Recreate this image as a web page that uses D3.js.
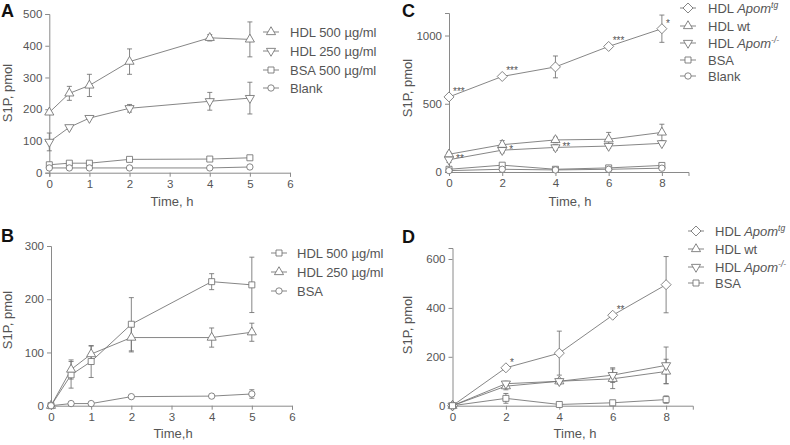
<!DOCTYPE html>
<html><head><meta charset="utf-8">
<script src="https://cdn.jsdelivr.net/npm/d3@7"></script>
<style>
html,body{margin:0;padding:0;background:#fff;}
svg{display:block;font-family:"Liberation Sans",Arial,sans-serif;}
</style></head>
<body>
<script>
// ---------- DATA ----------
const panelLetters = ["A", "B", "C", "D"];
const yAxisLabel = "S1P, pmol";
const xAxisLabels = ["Time, h", "Time,h", "Time, h", "Time, h"];

// Panel A
const timeA = [0, 0.5, 1, 2, 4, 5];
const aHdl500 = [190, 250, 275, 350, 425, 420];
const aHdl500Err = [0, 22, 35, 40, 10, 55];
const aHdl250 = [97, 143, 172, 203, 225, 235];
const aHdl250Err = [28, 5, 4, 12, 28, 50];
const aBsa = [25, 30, 30, 42, 43, 47];
const aBsaErr = [0, 0, 0, 0, 0, 0];
const aBlank = [15, 15, 15, 15, 15, 18];
const aBlankErr = [0, 0, 0, 0, 0, 0];
const ticksAx = [0, 1, 2, 3, 4, 5, 6];
const ticksAy = [0, 100, 200, 300, 400, 500];

// Panel B
const timeB = [0, 0.5, 1, 2, 4, 5];
const bHdl500 = [0, 58, 83, 153, 233, 227];
const bHdl500Err = [0, 25, 30, 50, 15, 52];
const bHdl250 = [0, 68, 97, 128, 128, 138];
const bHdl250Err = [0, 18, 15, 27, 18, 17];
const bBsa = [0, 4, 4, 17, 18, 22];
const bBsaErr = [0, 0, 0, 0, 0, 8];
const ticksBx = [0, 1, 2, 3, 4, 5, 6];
const ticksBy = [0, 100, 200, 300];

// Panel C
const timeC = [0, 2, 4, 6, 8];
const cTg = [550, 700, 770, 920, 1050];
const cTgErr = [0, 0, 80, 0, 100];
const cWt = [130, 200, 235, 240, 290];
const cWtErr = [15, 30, 20, 50, 60];
const cKo = [90, 160, 180, 190, 210];
const cKoErr = [20, 20, 20, 15, 10];
const cBsa = [20, 50, 20, 30, 48];
const cBsaErr = [10, 15, 5, 10, 10];
const cBlank = [10, 20, 15, 20, 28];
const cBlankErr = [0, 0, 0, 0, 0];
const ticksCx = [0, 2, 4, 6, 8];
const ticksCy = [0, 500, 1000];
const starsC = [
  {t: 0, v: 550, s: "***", place: "above"},
  {t: 2, v: 700, s: "***", place: "above"},
  {t: 6, v: 920, s: "***", place: "above"},
  {t: 8, v: 1050, s: "*", place: "above"},
  {t: 0, v: 90, s: "**", place: "right"},
  {t: 2, v: 160, s: "*", place: "right"},
  {t: 4, v: 180, s: "**", place: "right"}
];

// Panel D
const timeD = [0, 2, 4, 6, 8];
const dTg = [0, 155, 215, 370, 495];
const dTgErr = [0, 0, 90, 0, 115];
const dWt = [0, 80, 100, 110, 140];
const dWtErr = [0, 15, 10, 40, 50];
const dKo = [0, 90, 100, 125, 165];
const dKoErr = [0, 10, 10, 30, 75];
const dBsa = [0, 30, 5, 12, 25];
const dBsaErr = [0, 20, 0, 0, 15];
const ticksDx = [0, 2, 4, 6, 8];
const ticksDy = [0, 200, 400, 600];
const starsD = [
  {t: 2, v: 155, s: "*", place: "above"},
  {t: 6, v: 370, s: "**", place: "above"}
];

// legend names: [plain, italic, superscript]
const nHdl500 = ["HDL 500 \u00b5g/ml", "", ""];
const nHdl250 = ["HDL 250 \u00b5g/ml", "", ""];
const nBsa500 = ["BSA 500 \u00b5g/ml", "", ""];
const nBlank = ["Blank", "", ""];
const nBsa = ["BSA", "", ""];
const nTg = ["HDL ", "Apom", "tg"];
const nWt = ["HDL wt", "", ""];
const nKo = ["HDL ", "Apom", "-/-"];

// ---------- DRAWING ----------
const LINE = "#707070", TXT = "#555", AX = "#8a8a8a";
const svg = d3.select("body").append("svg").attr("width", 790).attr("height", 445);

function symPath(kind) {
  if (kind === "up" || kind === "down") return d3.symbol(d3.symbolTriangle, 36)();
  if (kind === "square") return d3.symbol(d3.symbolSquare, 36)();
  if (kind === "circle") return d3.symbol(d3.symbolCircle, 32)();
  if (kind === "diamond") return "M0,-5L5,0L0,5L-5,0Z";
}
function drawSym(g, kind, x, y) {
  g.append("path").attr("d", symPath(kind))
    .attr("transform", `translate(${x},${y})` + (kind === "down" ? " rotate(180)" : ""))
    .attr("fill", "#fff").attr("stroke", LINE).attr("stroke-width", 0.85);
}

const panels = [
  {letter: 0, xr: [49.3, 290], xd: [0, 6], yr: [172.7, 14], yd: [0, 500], xt: ticksAx, yt: ticksAy,
   lp: [1, 17], ylab: [12, 93], xlab: [172, 206],
   series: [
     {name: nHdl500, t: timeA, v: aHdl500, e: aHdl500Err, sym: "up"},
     {name: nHdl250, t: timeA, v: aHdl250, e: aHdl250Err, sym: "down"},
     {name: nBsa500, t: timeA, v: aBsa, e: aBsaErr, sym: "square"},
     {name: nBlank, t: timeA, v: aBlank, e: aBlankErr, sym: "circle"}],
   leg: {sx: 271, tx: 290, ys: [32, 51, 70, 88]}, stars: []},
  {letter: 1, xr: [51, 292], xd: [0, 6], yr: [405.7, 246], yd: [0, 300], xt: ticksBx, yt: ticksBy,
   lp: [1, 242], ylab: [12, 320], xlab: [173, 438],
   series: [
     {name: nHdl500, t: timeB, v: bHdl500, e: bHdl500Err, sym: "square"},
     {name: nHdl250, t: timeB, v: bHdl250, e: bHdl250Err, sym: "up"},
     {name: nBsa, t: timeB, v: bBsa, e: bBsaErr, sym: "circle"}],
   leg: {sx: 279, tx: 297, ys: [253, 272, 291]}, stars: []},
  {letter: 2, xr: [449, 688.5], xd: [0, 9], yr: [172, 13], yd: [0, 1165], xt: ticksCx, yt: ticksCy,
   lp: [402, 17], ylab: [412, 88], xlab: [570, 206],
   series: [
     {name: nTg, t: timeC, v: cTg, e: cTgErr, sym: "diamond"},
     {name: nWt, t: timeC, v: cWt, e: cWtErr, sym: "up"},
     {name: nKo, t: timeC, v: cKo, e: cKoErr, sym: "down"},
     {name: nBsa, t: timeC, v: cBsa, e: cBsaErr, sym: "square"},
     {name: nBlank, t: timeC, v: cBlank, e: cBlankErr, sym: "circle"}],
   leg: {sx: 688, tx: 708, ys: [8, 26, 43, 60, 76]}, stars: starsC},
  {letter: 3, xr: [452.5, 692.8], xd: [0, 9], yr: [405.7, 248], yd: [0, 645], xt: ticksDx, yt: ticksDy,
   lp: [402, 243], ylab: [412, 325], xlab: [575, 438],
   series: [
     {name: nTg, t: timeD, v: dTg, e: dTgErr, sym: "diamond"},
     {name: nWt, t: timeD, v: dWt, e: dWtErr, sym: "up"},
     {name: nKo, t: timeD, v: dKo, e: dKoErr, sym: "down"},
     {name: nBsa, t: timeD, v: dBsa, e: dBsaErr, sym: "square"}],
   leg: {sx: 696, tx: 715, ys: [231, 249, 267, 283]}, stars: starsD}
];

const fmt = d3.format("d");
panels.forEach(p => {
  const x = d3.scaleLinear().domain(p.xd).range(p.xr);
  const y = d3.scaleLinear().domain(p.yd).range(p.yr);
  const g = svg.append("g");

  // axes
  const ya = g.append("g").attr("transform", `translate(${p.xr[0]},0)`)
    .call(d3.axisLeft(y).tickValues(p.yt).tickFormat(fmt).tickSizeOuter(0).tickSize(4).tickPadding(3));
  const xa = g.append("g").attr("transform", `translate(0,${p.yr[0]})`)
    .call(d3.axisBottom(x).tickValues(p.xt).tickFormat(fmt).tickSizeOuter(0).tickSize(4).tickPadding(3));
  [ya, xa].forEach(a => {
    a.select(".domain").attr("stroke", AX);
    a.selectAll(".tick line").attr("stroke", AX);
    a.selectAll(".tick text").attr("fill", TXT).attr("font-size", 11.5)
      .attr("font-family", "Liberation Sans, Arial, sans-serif");
  });

  // panel letter
  g.append("text").attr("x", p.lp[0]).attr("y", p.lp[1]).text(panelLetters[p.letter])
    .attr("font-size", 18).attr("font-weight", "bold").attr("fill", "#111");
  // y label
  g.append("text").attr("transform", `translate(${p.ylab[0]},${p.ylab[1]}) rotate(-90)`)
    .attr("text-anchor", "middle").attr("font-size", 13).attr("fill", TXT).text(yAxisLabel);
  // x label
  g.append("text").attr("x", p.xlab[0]).attr("y", p.xlab[1]).attr("text-anchor", "middle")
    .attr("font-size", 13).attr("fill", TXT).text(xAxisLabels[p.letter]);

  const line = d3.line().x(d => x(d[0])).y(d => y(d[1]));
  // error bars
  p.series.forEach(s => {
    s.t.forEach((t, i) => {
      if (!s.e[i]) return;
      const cx = x(t), y1 = y(s.v[i] - s.e[i]), y2 = y(s.v[i] + s.e[i]);
      g.append("line").attr("x1", cx).attr("x2", cx).attr("y1", y1).attr("y2", y2).attr("stroke", LINE).attr("stroke-width", 0.85);
      [y1, y2].forEach(yy => g.append("line").attr("x1", cx - 2.5).attr("x2", cx + 2.5).attr("y1", yy).attr("y2", yy).attr("stroke", LINE).attr("stroke-width", 0.85));
    });
  });
  // lines
  p.series.forEach(s => {
    g.append("path").datum(s.t.map((t, i) => [t, s.v[i]])).attr("d", line)
      .attr("fill", "none").attr("stroke", LINE).attr("stroke-width", 0.85);
  });
  // markers
  p.series.forEach(s => {
    s.t.forEach((t, i) => drawSym(g, s.sym, x(t), y(s.v[i])));
  });
  // stars
  p.stars.forEach(st => {
    const px = x(st.t), py = y(st.v);
    const tx = st.place === "above" ? px + 4 : px + 7;
    const ty = st.place === "above" ? py - 2 : py + 2.5;
    g.append("text").attr("x", tx).attr("y", ty).attr("font-size", 10).attr("fill", TXT).text(st.s);
  });
  // legend
  p.series.forEach((s, i) => {
    const ly = p.leg.ys[i];
    g.append("line").attr("x1", p.leg.sx - 8).attr("x2", p.leg.sx + 8).attr("y1", ly).attr("y2", ly)
      .attr("stroke", LINE).attr("stroke-width", 0.85);
    drawSym(g, s.sym, p.leg.sx, ly);
    const t = g.append("text").attr("x", p.leg.tx).attr("y", ly + 4.5).attr("font-size", 13).attr("fill", TXT);
    t.append("tspan").text(s.name[0]);
    if (s.name[1]) t.append("tspan").attr("font-style", "italic").text(s.name[1]);
    if (s.name[2]) t.append("tspan").attr("font-style", "italic").attr("font-size", 8.5).attr("dy", -5).text(s.name[2]);
  });
});
</script>
</body></html>
